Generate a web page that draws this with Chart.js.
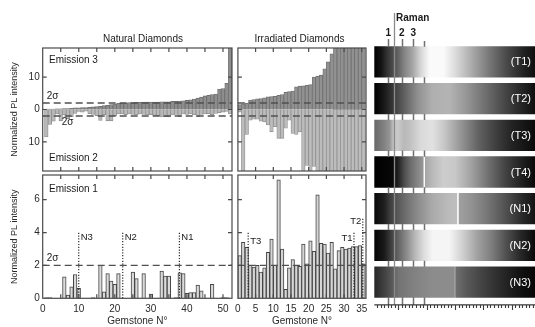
<!DOCTYPE html>
<html>
<head>
<meta charset="utf-8">
<script src="https://cdn.jsdelivr.net/npm/chart.js@4.4.1/dist/chart.umd.min.js"></script>
<style>
  html, body { margin: 0; padding: 0; background: #fff; }
  #wrap { position: relative; width: 535px; height: 327px; overflow: hidden; }
  #wrap canvas { position: absolute; left: 0; top: 0; }
</style>
</head>
<body>
<div id="wrap">
  <canvas id="natTop" width="535" height="327"></canvas>
  <canvas id="irrTop" width="535" height="327"></canvas>
  <canvas id="natBot" width="535" height="327"></canvas>
  <canvas id="irrBot" width="535" height="327"></canvas>
  <canvas id="spec" width="535" height="327"></canvas>
</div>
<script>
// ---------- data ----------
// natural diamonds, gemstones 1..52 (sorted by emission 3)
const natEmission3 = [0.1, 0.1, 0.1, 0.2, 0.2, 0.3, 0.3, 0.4, 0.5, 0.5,
    0.6, 0.6, 0.7, 0.8, 0.9, 1.0, 1.2, 1.3, 1.5, 1.7,
    1.9, 2.0, 2.0, 2.1, 2.1, 2.2, 2.2, 2.2, 2.3, 2.3,
    2.3, 2.3, 2.4, 2.4, 2.4, 2.5, 2.5, 2.6, 2.7, 2.8,
    3.0, 3.2, 3.5, 3.8, 4.2, 4.4, 4.6, 4.8, 6.3, 6.5,
    8.1, 25];
// emission 2 magnitudes (drawn downwards)
const natEmission2 = [8.5, 4.6, 3.6, 1.4, 3.5, 1.6, 2.8, 2.2, 1.2, 0.6,
    0.8, 0.5, 1.3, 1.5, 1.9, 3.4, 1.6, 3.5, 3.5, 2.0,
    1.4, 1.4, 1.6, 1.4, 1.5, 1.6, 1.4, 1.5, 1.7, 1.6,
    1.8, 1.9, 2.3, 2.2, 2.3, 1.7, 1.5, 2.2, 1.4, 1.5,
    1.4, 1.6, 2.2, 1.5, 1.4, 1.3, 1.6, 1.2, 1.0, 0.8,
    0.6, 1.4];
const natEmission1 = [0.05, 0.05, 0, 0, 0, 1.3, 0.2, 0.7, 1.45, 0.6,
    0, 0, 0, 0.05, 0, 2.0, 0.4, 1.5, 1.05, 0.85,
    1.5, 0, 0, 0, 1.6, 1.2, 0, 1.5, 0, 0.25,
    0, 0, 1.65, 1.35, 1.35, 0, 0.05, 1.55, 1.5, 0.3,
    0.35, 0.35, 0.8, 0.45, 0, 0, 0.85, 0, 0, 0.05,
    0.05, 0];

// irradiated diamonds, gemstones 1..36
const irrEmission3 = [1.5, 1.7, 1.9, 2.9, 3.1, 3.3, 3.4, 3.6, 3.9, 4.0,
    4.1, 4.4, 4.6, 5.3, 5.5, 5.7, 7.0, 7.2, 7.3, 7.5,
    7.7, 10.0, 10.3, 10.6, 12.6, 14.7, 17.2, 25, 25, 25,
    25, 25, 25, 25, 25, 25];
const irrEmission2 = [0.8, 25, 7.7, 3.3, 3.0, 3.0, 3.6, 3.8, 4.8, 6.9,
    5.3, 8.9, 8.9, 5.8, 3.3, 7.4, 7.7, 6.9, 25, 17.3,
    25, 17.6, 25, 25, 25, 25, 25, 25, 25, 25,
    25, 25, 25, 25, 25, 25];
const irrEmission1 = [2.6, 3.4, 3.1, 2.0, 1.9, 2.0, 1.6, 1.85, 2.8, 3.6,
    2.0, 7.2, 3.0, 0.55, 1.85, 2.35, 2.0, 1.95, 3.3, 2.1,
    3.5, 2.85, 6.3, 3.35, 3.3, 2.75, 3.4, 1.8, 2.9, 3.1,
    3.0, 3.05, 3.15, 3.15, 3.2, 2.1];

const sigmaLevel = 2;

// tick values
const natLabelTicks = [0, 10, 20, 30, 40, 50];
const natMarkTicks = [0, 5, 10, 15, 20, 25, 30, 35, 40, 45, 50];
const irrLabelTicks = [0, 5, 10, 15, 20, 25, 30, 35];
const topTicksY = [-10, 0, 10];
const bottomTicksY = [0, 2, 4, 6];

// selected gemstones (dotted markers)
const natMarkNames = ['N3', 'N2', 'N1'];
const natMarkPos = [10, 22.2, 37.9];
const natMarkTop = [4.0, 4.0, 4.0];
const irrMarkNames = ['T3', 'T1', 'T2'];
const irrMarkPos = [2.9, 32.8, 35.3];
const irrMarkTop = [4.0, 4.0, 4.9];

// PL spectra panel
const specRows = ['T1', 'T2', 'T3', 'T4', 'N1', 'N2', 'N3'];
const specRange = [457.7, 741.1];
const specLineNames = ['1', '2', '3', ''];
const specLinePos = [482.4, 506, 526.5, 545.3];
const ramanPos = 493;
// grey level stops [position, level 0-255] for each spectrum image
const specGrey = {
    T1: [[458, 0], [470, 20], [480, 50], [490, 75], [500, 100], [510, 130], [525, 165], [540, 215], [555, 250], [580, 250], [600, 220], [630, 170], [660, 120], [690, 75], [720, 35], [741, 15]],
    T2: [[458, 0], [475, 25], [490, 55], [505, 85], [520, 115], [535, 145], [560, 175], [590, 180], [620, 150], [650, 115], [680, 80], [710, 45], [741, 15]],
    T3: [[458, 105], [475, 130], [485, 150], [493, 205], [500, 200], [510, 185], [520, 192], [540, 218], [560, 225], [580, 200], [610, 150], [640, 100], [670, 65], [700, 35], [741, 10]],
    T4: [[458, 0], [490, 8], [500, 35], [510, 75], [520, 105], [535, 135], [544, 150], [545, 250], [546.5, 250], [547.5, 165], [560, 185], [580, 205], [600, 200], [630, 160], [660, 110], [690, 65], [720, 30], [741, 10]],
    N1: [[458, 10], [475, 30], [485, 60], [500, 90], [520, 120], [535, 140], [560, 170], [585, 185], [603, 190], [604, 245], [606, 245], [607, 160], [630, 145], [660, 115], [690, 80], [720, 40], [741, 20]],
    N2: [[458, 5], [475, 25], [490, 70], [500, 100], [515, 140], [530, 185], [545, 220], [560, 245], [590, 245], [615, 205], [640, 160], [665, 125], [690, 80], [715, 40], [741, 10]],
    N3: [[458, 40], [475, 65], [490, 90], [500, 115], [530, 130], [560, 140], [598, 140], [600, 170], [602, 110], [620, 90], [650, 65], [690, 35], [720, 15], [741, 8]]
};

// ---------- look ----------
const FONT = "'Liberation Sans', Arial, Helvetica, sans-serif";
Chart.defaults.font.family = FONT;
Chart.defaults.font.size = 10;
Chart.defaults.color = '#2a2a2a';
Chart.defaults.animation = false;
Chart.defaults.responsive = false;
Chart.defaults.plugins.legend.display = false;
Chart.defaults.plugins.tooltip.enabled = false;

const W = 535, H = 327;
const boxes = {
    natTop: { left: 42.7, right: 232, top: 48, bottom: 171 },
    irrTop: { left: 237.9, right: 366, top: 48, bottom: 171 },
    natBot: { left: 42.7, right: 232, top: 175, bottom: 298.3 },
    irrBot: { left: 237.9, right: 366, top: 175, bottom: 298.3 },
    spec: { left: 374.3, right: 535, top: 43.6, bottom: 300.4 }
};

function padFor(box, yShown, xShown) {
    return {
        left: yShown ? 0 : box.left,
        right: W - box.right,
        top: box.top,
        bottom: xShown ? 0 : H - box.bottom
    };
}

function fixTicks(values) {
    return (scale) => { scale.ticks = values.map(v => ({ value: v })); };
}

// frame, inside ticks, sigma lines, markers and labels
function panelDecor(cfg) {
    return {
        id: 'panelDecor',
        afterDatasetsDraw(chart) {
            const { ctx, chartArea: a, scales: { x, y } } = chart;
            ctx.save();
            // 2 sigma dashed lines
            ctx.strokeStyle = '#505050';
            ctx.lineWidth = 1.4;
            ctx.setLineDash([7, 4]);
            cfg.sigma.forEach(v => {
                const py = y.getPixelForValue(v);
                ctx.beginPath();
                ctx.moveTo(a.left, py);
                ctx.lineTo(a.right, py);
                ctx.stroke();
            });
            // dotted gemstone markers
            ctx.setLineDash([1.2, 1.6]);
            ctx.strokeStyle = '#1a1a1a';
            ctx.lineWidth = 1.1;
            ctx.font = `9.5px ${FONT}`;
            ctx.fillStyle = '#1a1a1a';
            ctx.textBaseline = 'top';
            (cfg.markers || []).forEach(m => {
                const px = x.getPixelForValue(m.x);
                const top = y.getPixelForValue(m.top);
                ctx.beginPath();
                ctx.moveTo(px, y.getPixelForValue(0));
                ctx.lineTo(px, top);
                ctx.stroke();
                ctx.textAlign = m.side === 'left' ? 'right' : 'left';
                ctx.fillText(m.name, px + (m.side === 'left' ? -1.5 : 2), top + m.drop);
            });
            ctx.setLineDash([]);
            // panel texts
            ctx.textBaseline = 'middle';
            (cfg.texts || []).forEach(t => {
                ctx.font = `${t.size || 10}px ${FONT}`;
                ctx.textAlign = t.align || 'left';
                ctx.fillText(t.text, x.getPixelForValue(t.x), y.getPixelForValue(t.y));
            });
            ctx.restore();
        },
        afterDraw(chart) {
            const { ctx, chartArea: a, scales: { x, y } } = chart;
            ctx.save();
            ctx.strokeStyle = '#4a4a4a';
            ctx.lineWidth = 1.2;
            ctx.strokeRect(a.left, a.top, a.right - a.left, a.bottom - a.top);
            ctx.beginPath();
            cfg.ticksX.forEach(v => {
                const px = x.getPixelForValue(v);
                if (px < a.left + 1 || px > a.right - 1) return;
                ctx.moveTo(px, a.top); ctx.lineTo(px, a.top + 4);
                ctx.moveTo(px, a.bottom); ctx.lineTo(px, a.bottom - 4);
            });
            cfg.ticksY.forEach(v => {
                const py = y.getPixelForValue(v);
                if (py < a.top + 1 || py > a.bottom - 1) return;
                ctx.moveTo(a.left, py); ctx.lineTo(a.left + 4, py);
                ctx.moveTo(a.right, py); ctx.lineTo(a.right - 4, py);
            });
            ctx.stroke();
            if (cfg.title) {
                ctx.fillStyle = '#1a1a1a';
                ctx.font = `10px ${FONT}`;
                ctx.textAlign = 'center';
                ctx.textBaseline = 'middle';
                ctx.fillText(cfg.title.text, x.getPixelForValue(cfg.title.x), a.top - 8.5);
            }
            ctx.restore();
        }
    };
}

function barSet(values, offset, sign, fill, border, width) {
    return {
        data: values.map((v, i) => ({ x: i + offset, y: sign * v })),
        backgroundColor: fill,
        borderColor: border,
        borderWidth: width,
        grouped: false,
        barPercentage: 1,
        categoryPercentage: 1
    };
}

function xHidden(min, max) {
    return { type: 'linear', display: false, offset: false, min, max };
}

function yAxisLeft(box, min, max, ticks, labelFn) {
    return {
        min, max,
        afterBuildTicks: fixTicks(ticks),
        afterFit: (s) => { s.width = box.left; },
        grid: { display: false, drawTicks: false },
        border: { display: false },
        ticks: { padding: 3, callback: labelFn, font: { size: 10 } },
        title: { display: true, text: 'Normalized PL intensity', font: { size: 9 }, padding: { top: 9, bottom: 0 } }
    };
}

function xAxisBottom(box, min, max, ticks) {
    return {
        type: 'linear', min, max,
        offset: false,
        afterBuildTicks: fixTicks(ticks),
        afterFit: (s) => { s.height = H - box.bottom; },
        grid: { display: false, drawTicks: false },
        border: { display: false },
        ticks: { padding: 5, font: { size: 10 }, maxRotation: 0, minRotation: 0, autoSkip: false },
        title: { display: true, text: 'Gemstone N°', font: { size: 10 }, padding: { top: 0, bottom: 0 } }
    };
}

function markerList(names, pos, tops, sides, drops) {
    return names.map((n, i) => ({ name: n, x: pos[i], top: tops[i], side: sides[i], drop: drops[i] }));
}

// ---------- emission 3 / emission 2, natural ----------
new Chart(document.getElementById('natTop'), {
    type: 'bar',
    data: {
        datasets: [
            barSet(natEmission3, 1, 1, '#8d8d8d', '#6c6c6c', 0.8),
            barSet(natEmission2, 1, -1, '#b9b9b9', '#8e8e8e', 0.8)
        ]
    },
    options: {
        layout: { padding: padFor(boxes.natTop, true, false) },
        scales: {
            x: xHidden(0, 52.5),
            y: yAxisLeft(boxes.natTop, -19, 19, topTicksY, v => Math.abs(v))
        }
    },
    plugins: [panelDecor({
        sigma: [sigmaLevel, -sigmaLevel],
        ticksX: natMarkTicks,
        ticksY: topTicksY,
        title: { text: 'Natural Diamonds', x: 27.8 },
        texts: [
            { text: 'Emission 3', x: 1.75, y: 15.1 },
            { text: 'Emission 2', x: 1.75, y: -15.1 },
            { text: '2σ', x: 1.1, y: 3.95 },
            { text: '2σ', x: 5.3, y: -4.0 }
        ]
    })]
});

// ---------- emission 3 / emission 2, irradiated ----------
new Chart(document.getElementById('irrTop'), {
    type: 'bar',
    data: {
        datasets: [
            barSet(irrEmission3, 0.5, 1, '#919191', '#6e6e6e', 0.8),
            barSet(irrEmission2, 0.5, -1, '#bcbcbc', '#909090', 0.8)
        ]
    },
    options: {
        layout: { padding: padFor(boxes.irrTop, false, false) },
        scales: {
            x: xHidden(0, 36.2),
            y: { display: false, min: -19, max: 19 }
        }
    },
    plugins: [panelDecor({
        sigma: [sigmaLevel, -sigmaLevel],
        ticksX: irrLabelTicks,
        ticksY: topTicksY,
        title: { text: 'Irradiated Diamonds', x: 17.4 }
    })]
});

// ---------- emission 1, natural ----------
new Chart(document.getElementById('natBot'), {
    type: 'bar',
    data: { datasets: [barSet(natEmission1, 1, 1, '#dadada', '#444', 1)] },
    options: {
        layout: { padding: padFor(boxes.natBot, true, true) },
        scales: {
            x: xAxisBottom(boxes.natBot, 0, 52.5, natLabelTicks),
            y: yAxisLeft(boxes.natBot, 0, 7.5, bottomTicksY, v => v)
        }
    },
    plugins: [panelDecor({
        sigma: [sigmaLevel],
        ticksX: natMarkTicks,
        ticksY: bottomTicksY,
        markers: markerList(natMarkNames, natMarkPos, natMarkTop, ['right', 'right', 'right'], [0, 0, 0]),
        texts: [
            { text: 'Emission 1', x: 1.75, y: 6.62 },
            { text: '2σ', x: 1.1, y: 2.42 }
        ]
    })]
});

// ---------- emission 1, irradiated ----------
new Chart(document.getElementById('irrBot'), {
    type: 'bar',
    data: { datasets: [barSet(irrEmission1, 0.5, 1, '#d6d6d6', '#444', 1)] },
    options: {
        layout: { padding: padFor(boxes.irrBot, false, true) },
        scales: {
            x: xAxisBottom(boxes.irrBot, 0, 36.2, irrLabelTicks),
            y: { display: false, min: 0, max: 7.5 }
        }
    },
    plugins: [panelDecor({
        sigma: [sigmaLevel],
        ticksX: irrLabelTicks,
        ticksY: bottomTicksY,
        markers: markerList(irrMarkNames, irrMarkPos, irrMarkTop, ['right', 'left', 'left'], [4, 1, -1])
    })]
});

// ---------- PL spectra images ----------
function greyGradient(chart, stops) {
    const { ctx, chartArea: a, scales: { x } } = chart;
    const g = ctx.createLinearGradient(a.left, 0, a.right, 0);
    const span = a.right - a.left;
    stops.forEach(([w, v]) => {
        const off = Math.min(1, Math.max(0, (x.getPixelForValue(w) - a.left) / span));
        g.addColorStop(off, `rgb(${v},${v},${v})`);
    });
    return g;
}

const specDecor = {
    id: 'specDecor',
    afterDatasetsDraw(chart) {
        const { ctx, chartArea: a, scales: { x } } = chart;
        const bars = chart.getDatasetMeta(0).data;
        const axisY = a.bottom + 4.5;
        ctx.save();
        // line ticks between the images
        ctx.strokeStyle = '#707070';
        ctx.lineWidth = 1.5;
        specLinePos.forEach((w, k) => {
            const px = Math.round(x.getPixelForValue(w)) + 0.5;
            let prev = specLineNames[k] ? 39 : 41;
            ctx.beginPath();
            bars.forEach(b => {
                ctx.moveTo(px, prev);
                ctx.lineTo(px, b.y - b.height / 2);
                prev = b.y + b.height / 2;
            });
            ctx.moveTo(px, prev);
            ctx.lineTo(px, axisY);
            ctx.stroke();
        });
        // Raman line
        const rx = Math.round(x.getPixelForValue(ramanPos)) + 0.5;
        ctx.strokeStyle = '#8a8a8a';
        ctx.lineWidth = 1.3;
        ctx.beginPath();
        ctx.moveTo(rx, 13);
        ctx.lineTo(rx, axisY);
        ctx.stroke();
        // labels above
        ctx.fillStyle = '#1a1a1a';
        ctx.font = `bold 10px ${FONT}`;
        ctx.textBaseline = 'middle';
        ctx.textAlign = 'left';
        ctx.fillText('Raman', rx + 1.5, 18);
        ctx.textAlign = 'center';
        specLinePos.forEach((w, k) => {
            if (specLineNames[k]) ctx.fillText(specLineNames[k], x.getPixelForValue(w), 33);
        });
        // row names
        ctx.fillStyle = '#fff';
        ctx.font = `11px ${FONT}`;
        ctx.textAlign = 'right';
        bars.forEach((b, i) => ctx.fillText(`(${specRows[i]})`, a.right - 4, b.y + 0.5));
        // bottom axis
        ctx.strokeStyle = '#3a3a3a';
        ctx.lineWidth = 1.1;
        ctx.beginPath();
        ctx.moveTo(a.left, axisY);
        ctx.lineTo(a.right, axisY);
        const step = 6.25;
        let w = 500 - step * Math.floor((500 - specRange[0]) / step);
        for (; w <= specRange[1]; w += step) {
            const px = Math.round(x.getPixelForValue(w)) + 0.5;
            const major = Math.abs((w - 500) % 50) < 0.01;
            ctx.moveTo(px, axisY);
            ctx.lineTo(px, axisY + (major ? 5 : 3));
        }
        ctx.stroke();
        ctx.restore();
    }
};

new Chart(document.getElementById('spec'), {
    type: 'bar',
    data: {
        labels: specRows,
        datasets: [{
            data: specRows.map(() => specRange),
            backgroundColor: (c) => c.chart.chartArea ? greyGradient(c.chart, specGrey[specRows[c.dataIndex]]) : '#000',
            borderWidth: 0,
            barThickness: 30.6
        }]
    },
    options: {
        indexAxis: 'y',
        layout: { padding: padFor(boxes.spec, false, false) },
        scales: {
            x: { type: 'linear', display: false, min: specRange[0], max: specRange[1] },
            y: { display: false }
        }
    },
    plugins: [specDecor]
});
</script>
</body>
</html>
